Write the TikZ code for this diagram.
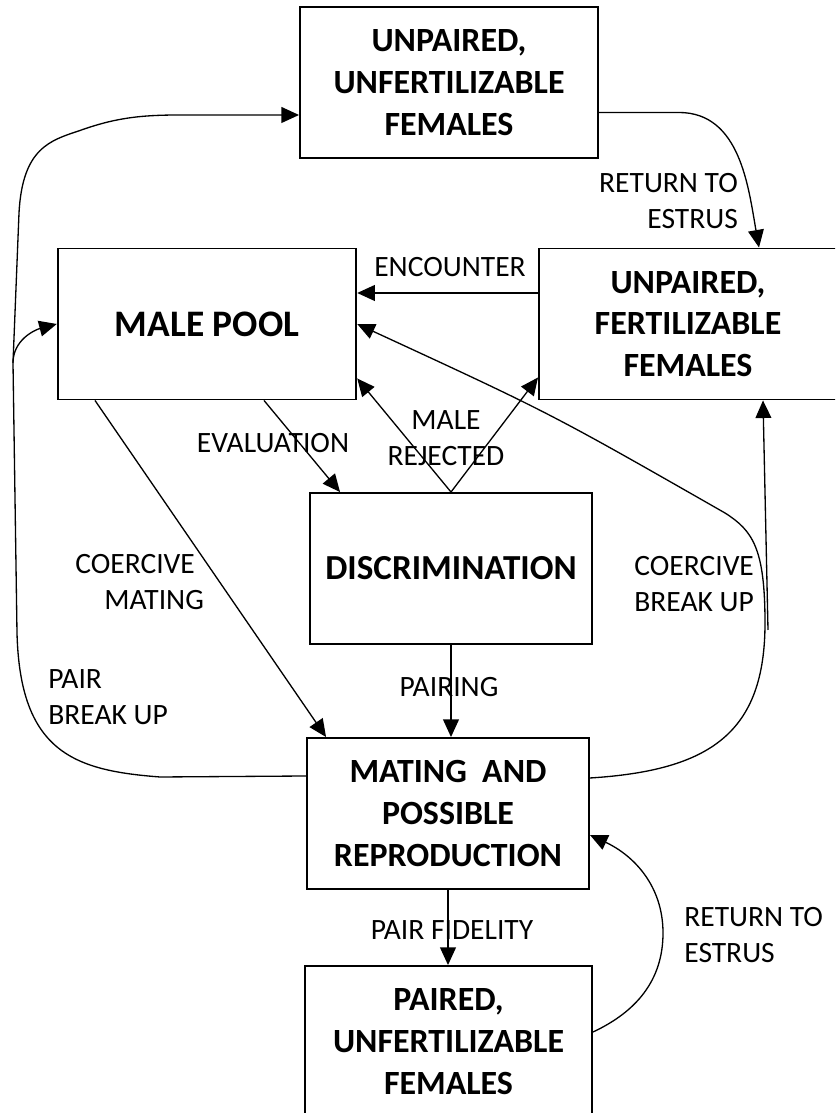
\documentclass[tikz,border=0pt]{standalone}
\usepackage{fontspec}
\setmainfont{Carlito}
\usetikzlibrary{arrows.meta,positioning,calc}

\begin{document}
\begin{tikzpicture}[
  x=1cm, y=1cm,
  stage/.style={
    rectangle,
    draw=black,
    line width=1.1pt,
    align=center,
    font=\fontsize{19.3}{23.8}\selectfont\bfseries,
    minimum height=3.02cm,
    inner sep=2pt
  },
  lbl/.style={
    font=\fontsize{16.8}{20.5}\selectfont,
    inner sep=0pt
  },
  link/.style={-{Triangle[length=10pt,width=9pt]}, line width=0.75pt}
]
\useasboundingbox (0,0) rectangle (16.7,22.26);
\clip (0,0) rectangle (16.7,22.26);

\node[stage, minimum width=5.96cm] (unfert) at (8.98,20.61) {UNPAIRED,\\UNFERTILIZABLE\\FEMALES};
\node[stage, minimum width=5.97cm, font=\fontsize{21.3}{25}\selectfont\bfseries] (pool) at (4.14,15.78) {MALE POOL};
\node[stage, minimum width=5.96cm] (fert) at (13.76,15.78) {UNPAIRED,\\FERTILIZABLE\\FEMALES};
\node[stage, minimum width=5.64cm, font=\fontsize{20}{24}\selectfont\bfseries] (disc) at (9.02,10.89) {DISCRIMINATION};
\node[stage, minimum width=5.64cm] (mate) at (8.96,5.99) {MATING\ \ AND\\POSSIBLE\\REPRODUCTION};
\node[stage, minimum width=5.74cm] (paired) at (8.97,1.43) {PAIRED,\\UNFERTILIZABLE\\FEMALES};

\node[lbl] (enclbl) at (9.0,16.92) {ENCOUNTER};
\node[lbl, align=right] (ret1lbl) at (13.37,18.23) {RETURN TO\\ESTRUS};
\node[lbl, align=center] (rejlbl) at (8.92,13.49) {MALE\\REJECTED};
\node[lbl] (evallbl) at (5.46,13.40) {EVALUATION};
\node[lbl, align=left, anchor=west] (cmatelbl) at (1.5,10.62) {COERCIVE\\\hspace*{0.58cm}MATING};
\node[lbl] (pairlbl) at (8.98,8.52) {PAIRING};
\node[lbl, align=left, anchor=west] (pbreaklbl) at (0.96,8.31) {PAIR\\BREAK UP};
\node[lbl, align=left, anchor=west] (cbreaklbl) at (12.68,10.57) {COERCIVE\\BREAK UP};
\node[lbl] (fidlbl) at (9.04,3.66) {PAIR FIDELITY};
\node[lbl, align=left, anchor=west] (ret2lbl) at (13.68,3.56) {RETURN TO\\ESTRUS};

\coordinate (cbu) at (15.36,9.66);

\draw[link] ([yshift=-0.6cm]unfert.east) -- ++(1.6,0) to[out=0,in=100] ([xshift=1.42cm]fert.north);
\draw[link] ([yshift=0.62cm]fert.west) -- ([yshift=0.62cm]pool.east);
\draw[link] (disc.north) -- ([yshift=0.44cm]pool.south east);
\draw[link] (disc.north) -- ([yshift=0.46cm]fert.south west);
\draw[link] ([xshift=1.14cm]pool.south) -- ([xshift=0.62cm]disc.north west);
\draw[link] ([xshift=-2.24cm]pool.south) -- ([xshift=0.4cm]mate.north west);
\draw[link] (disc.south) -- (disc.south |- mate.north);
\draw[link] (mate.south) -- (mate.south |- paired.north);
\draw[link] ([yshift=0.75cm]mate.west) -- (3.2,6.72) .. controls (1.5,6.85) and (0.4,7.2) .. (0.34,9.6) -- (0.26,15.0) coordinate (brk) to[out=90,in=195] (pool.west);
\draw[link] (brk) -- (0.38,18.0) .. controls (0.45,19.3) and (1.0,19.45) .. (1.6,19.65) .. controls (2.3,19.9) and (2.8,19.96) .. (3.6,19.96) -- ([yshift=-0.65cm]unfert.west);
\draw[link] ([yshift=0.71cm]mate.east) .. controls (14.2,6.85) and (15.3,7.6) .. (15.3,9.8) .. controls (15.3,11.3) and (15.05,11.65) .. (14.5,12.0) .. controls (11.0,14.0) .. (pool.east);
\draw[link] (cbu) -- ([xshift=1.5cm]fert.south);
\draw[link] ([yshift=0.19cm]paired.east) to[out=25,in=-90] (13.26,3.6) to[out=90,in=-25] ([yshift=-0.43cm]mate.east);

\end{tikzpicture}
\end{document}
